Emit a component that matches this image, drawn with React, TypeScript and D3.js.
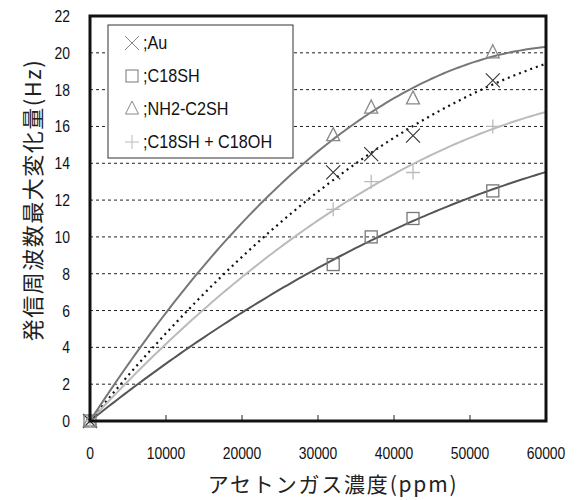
import React, { useRef, useEffect } from "react"
import * as d3 from "d3"

// concentrations (ppm) where each sample was measured
const concentrations = [0, 32000, 37000, 42500, 53000]
const auValues = [0, 13.5, 14.5, 15.5, 18.5]
const c18shValues = [0, 8.5, 10, 11, 12.5]
const nh2Values = [0, 15.5, 17, 17.5, 20]
const mixValues = [0, 11.5, 13, 13.5, 16]

const seriesNames = [";Au", ";C18SH", ";NH2-C2SH", ";C18SH + C18OH"]
const xTicks = [0, 10000, 20000, 30000, 40000, 50000, 60000]
const yTicks = [0, 2, 4, 6, 8, 10, 12, 14, 16, 18, 20, 22]

const W = 578
const H = 500
const margin = { top: 16, right: 32, bottom: 79, left: 90 }
const FONT = "'Liberation Sans', Arial, sans-serif"
const JP = "'Noto Sans CJK JP', sans-serif"
const SQUEEZE = 0.82

// quadratic least squares through the origin, like the spreadsheet trend line
function fitQuad(xs, ys) {
  let s2 = 0, s3 = 0, s4 = 0, sxy = 0, sx2y = 0
  xs.forEach((x, i) => {
    const y = ys[i]
    s2 += x * x
    s3 += x * x * x
    s4 += x * x * x * x
    sxy += x * y
    sx2y += x * x * y
  })
  const det = s2 * s4 - s3 * s3
  const a = (sxy * s4 - s3 * sx2y) / det
  const b = (s2 * sx2y - s3 * sxy) / det
  return x => a * x + b * x * x
}

function App() {
  const ref = useRef()

  useEffect(() => {
    const svg = d3.select(ref.current)
    svg.selectAll("*").remove()

    const x = d3.scaleLinear().domain([0, 60000]).range([margin.left, W - margin.right])
    const y = d3.scaleLinear().domain([0, 22]).range([H - margin.bottom, margin.top])

    const series = [
      { name: seriesNames[0], values: auValues, marker: "x", mColor: "#333", lColor: "#111", dash: "2,4", lw: 2.2 },
      { name: seriesNames[1], values: c18shValues, marker: "square", mColor: "#777", lColor: "#555", dash: null, lw: 2 },
      { name: seriesNames[2], values: nh2Values, marker: "tri", mColor: "#888", lColor: "#777", dash: null, lw: 2 },
      { name: seriesNames[3], values: mixValues, marker: "plus", mColor: "#bbb", lColor: "#bbb", dash: null, lw: 2 },
    ]

    // grid lines
    svg.append("g")
      .selectAll("line")
      .data(yTicks.filter(t => t > 0 && t < 22))
      .join("line")
      .attr("x1", x(0))
      .attr("x2", x(60000))
      .attr("y1", d => y(d))
      .attr("y2", d => y(d))
      .attr("stroke", "#222")
      .attr("stroke-width", 1)
      .attr("stroke-dasharray", "3,3")

    // bottom inner ticks
    svg.append("g")
      .selectAll("line")
      .data(xTicks.slice(1, -1))
      .join("line")
      .attr("x1", d => x(d))
      .attr("x2", d => x(d))
      .attr("y1", y(0))
      .attr("y2", y(0) - 6)
      .attr("stroke", "#222")

    // trend curves
    const samples = d3.range(0, 60001, 500)
    series.forEach(s => {
      const f = fitQuad(concentrations.map(c => c / 10000), s.values)
      const line = d3.line().x(d => x(d)).y(d => y(f(d / 10000)))
      svg.append("path")
        .datum(samples)
        .attr("d", line)
        .attr("fill", "none")
        .attr("stroke", s.lColor)
        .attr("stroke-width", s.lw)
        .attr("stroke-dasharray", s.dash)
    })

    const drawMarker = (g, type, cx, cy, color, sw = 1.3) => {
      if (type === "x") {
        g.append("path")
          .attr("d", `M${cx - 7},${cy - 7}L${cx + 7},${cy + 7}M${cx - 7},${cy + 7}L${cx + 7},${cy - 7}`)
          .attr("stroke", color).attr("stroke-width", sw - 0.2).attr("fill", "none")
      } else if (type === "square") {
        g.append("rect")
          .attr("x", cx - 6).attr("y", cy - 6).attr("width", 12).attr("height", 12)
          .attr("stroke", color).attr("stroke-width", sw).attr("fill", "none")
      } else if (type === "tri") {
        g.append("path")
          .attr("d", `M${cx},${cy - 8}L${cx + 6.5},${cy + 5}L${cx - 6.5},${cy + 5}Z`)
          .attr("stroke", color).attr("stroke-width", sw).attr("fill", "none")
      } else {
        g.append("path")
          .attr("d", `M${cx - 7},${cy}L${cx + 7},${cy}M${cx},${cy - 7}L${cx},${cy + 7}`)
          .attr("stroke", color).attr("stroke-width", sw).attr("fill", "none")
      }
    }

    // markers
    series.forEach(s => {
      const g = svg.append("g")
      s.values.forEach((v, i) => drawMarker(g, s.marker, x(concentrations[i]), y(v), s.mColor))
    })

    // frame
    svg.append("rect")
      .attr("x", x(0))
      .attr("y", y(22))
      .attr("width", x(60000) - x(0))
      .attr("height", y(0) - y(22))
      .attr("fill", "none")
      .attr("stroke", "#111")
      .attr("stroke-width", 3)

    // legend
    const lg = svg.append("g")
    lg.append("rect")
      .attr("x", 108).attr("y", 25).attr("width", 185).attr("height", 133)
      .attr("fill", "#fff").attr("stroke", "#333").attr("stroke-width", 1)
    series.forEach((s, i) => {
      const cy = 43 + i * 33
      drawMarker(lg, s.marker, 132, cy, s.mColor === "#333" ? "#666" : s.mColor, 1)
      lg.append("text")
        .attr("transform", `translate(143,${cy + 6}) scale(0.9,1)`)
        .attr("font-family", FONT).attr("font-size", 18).attr("fill", "#111")
        .text(s.name)
    })

    // tick labels
    svg.append("g")
      .selectAll("text")
      .data(yTicks)
      .join("text")
      .attr("transform", d => `translate(70,${y(d) + 6}) scale(${SQUEEZE},1)`)
      .attr("text-anchor", "end")
      .attr("font-family", FONT)
      .attr("font-size", 17)
      .attr("fill", "#111")
      .text(d => d)

    svg.append("g")
      .selectAll("text")
      .data(xTicks)
      .join("text")
      .attr("transform", d => `translate(${x(d)},459) scale(${SQUEEZE},1)`)
      .attr("text-anchor", "middle")
      .attr("font-family", FONT)
      .attr("font-size", 17)
      .attr("fill", "#111")
      .text(d => d)

    // axis titles
    svg.append("text")
      .attr("x", 333).attr("y", 492)
      .attr("text-anchor", "middle")
      .attr("font-family", JP).attr("font-size", 21).attr("fill", "#222")
      .attr("letter-spacing", 1.8)
      .text("アセトンガス濃度(ppm)")

    svg.append("text")
      .attr("transform", "translate(41,200) rotate(-90)")
      .attr("text-anchor", "middle")
      .attr("font-family", JP).attr("font-size", 22).attr("fill", "#222")
      .attr("letter-spacing", 1.5)
      .text("発信周波数最大変化量(Hz)")
  }, [])

  return (
    <svg
      ref={ref}
      width={W}
      height={H}
      style={{ position: "absolute", left: 0, top: 0, background: "#fff" }}
    />
  )
}

export default App
